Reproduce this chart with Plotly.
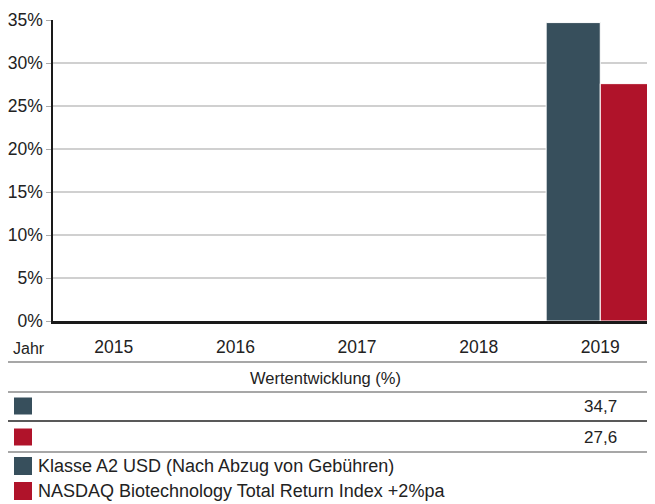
import plotly.graph_objects as go

years = ["2015", "2016", "2017", "2018", "2019"]
fund_values = [None, None, None, None, 34.7]
index_values = [None, None, None, None, 27.6]
fund_name = "Klasse A2 USD (Nach Abzug von Gebühren)"
index_name = "NASDAQ Biotechnology Total Return Index +2%pa"
y_ticks = [0, 5, 10, 15, 20, 25, 30, 35]
y_labels = ["0%", "5%", "10%", "15%", "20%", "25%", "30%", "35%"]

FUND_COLOR = "#374f5c"
INDEX_COLOR = "#b0132a"
TEXT = "#222222"
FONT = "Liberation Sans"

OFF = 8  # page body margin in the browser
PAGE_W, PAGE_H = 655, 504
W, H = PAGE_W - OFF, PAGE_H - OFF
L, T, B = 53, 20, 321  # plot area, page pixels


def py(p):
    """page pixel y -> paper y"""
    return (B - p) / (B - T)


def px(p):
    return (p - L) / (PAGE_W - L)


fig = go.Figure()
fig.add_trace(go.Bar(x=years, y=fund_values, name=fund_name,
                     marker=dict(color=FUND_COLOR, line=dict(color="white", width=1))))
fig.add_trace(go.Bar(x=years, y=index_values, name=index_name,
                     marker=dict(color=INDEX_COLOR, line=dict(color="white", width=1))))

shapes = []
annotations = []

# table lines
for yy, col in [(362, "#8a8a8a"), (392, "#8a8a8a"), (421, "#222222"), (452, "#8a8a8a")]:
    shapes.append(dict(type="line", xref="paper", yref="paper",
                       x0=px(OFF), x1=px(PAGE_W), y0=py(yy), y1=py(yy),
                       line=dict(color=col, width=1.5)))

annotations.append(dict(text="Jahr", xref="paper", yref="paper", x=px(11), y=py(348),
                        xanchor="left", yanchor="middle", showarrow=False,
                        font=dict(size=16, color=TEXT)))
annotations.append(dict(text="Wertentwicklung (%)", xref="paper", yref="paper",
                        x=px(325.5), y=py(378), xanchor="center", yanchor="middle",
                        showarrow=False, font=dict(size=16.5, color=TEXT)))

# value rows
rows = [(fund_values, FUND_COLOR, 406), (index_values, INDEX_COLOR, 437)]
for vals, col, yy in rows:
    shapes.append(dict(type="rect", xref="paper", yref="paper",
                       x0=px(14), x1=px(32), y0=py(yy - 8.5), y1=py(yy + 8.5),
                       fillcolor=col, line=dict(width=0)))
    for i, v in enumerate(vals):
        if v is not None:
            annotations.append(dict(text=f"{v:.1f}".replace(".", ","), xref="x", yref="paper",
                                    x=i, y=py(yy), xanchor="center", yanchor="middle",
                                    showarrow=False, font=dict(size=17, color=TEXT)))

# legend
for name, col, yy in [(fund_name, FUND_COLOR, 466), (index_name, INDEX_COLOR, 491)]:
    shapes.append(dict(type="rect", xref="paper", yref="paper",
                       x0=px(14), x1=px(32), y0=py(yy - 9), y1=py(yy + 9),
                       fillcolor=col, line=dict(width=0)))
    annotations.append(dict(text=name, xref="paper", yref="paper", x=px(36), y=py(yy),
                            xanchor="left", yanchor="middle", showarrow=False,
                            font=dict(size=18, color=TEXT)))

fig.update_layout(
    width=W, height=H,
    margin=dict(l=L - OFF, r=0, t=T - OFF, b=PAGE_H - B, pad=0),
    paper_bgcolor="white", plot_bgcolor="white",
    barmode="group", bargap=0.11, bargroupgap=0.0,
    showlegend=False,
    font=dict(family=FONT, size=17, color=TEXT),
    shapes=shapes, annotations=annotations,
)
fig.update_xaxes(type="category", categoryorder="array", categoryarray=years,
                 showline=True, linecolor="#1a1a1a", linewidth=2.5,
                 showgrid=False, ticks="", ticklabelstandoff=8,
                 tickfont=dict(size=17.5, color=TEXT), range=[-0.5, 4.45], fixedrange=True)
fig.update_yaxes(range=[0, 35], tickvals=y_ticks, ticktext=y_labels,
                 showline=True, linecolor="#1a1a1a", linewidth=1.5,
                 showgrid=True, gridcolor="#d0d0d0", gridwidth=1.5,
                 ticks="outside", ticklen=5, tickcolor="#aaaaaa",
                 zeroline=False, tickfont=dict(size=17.5, color=TEXT), fixedrange=True)

fig.write_html("out.html")
